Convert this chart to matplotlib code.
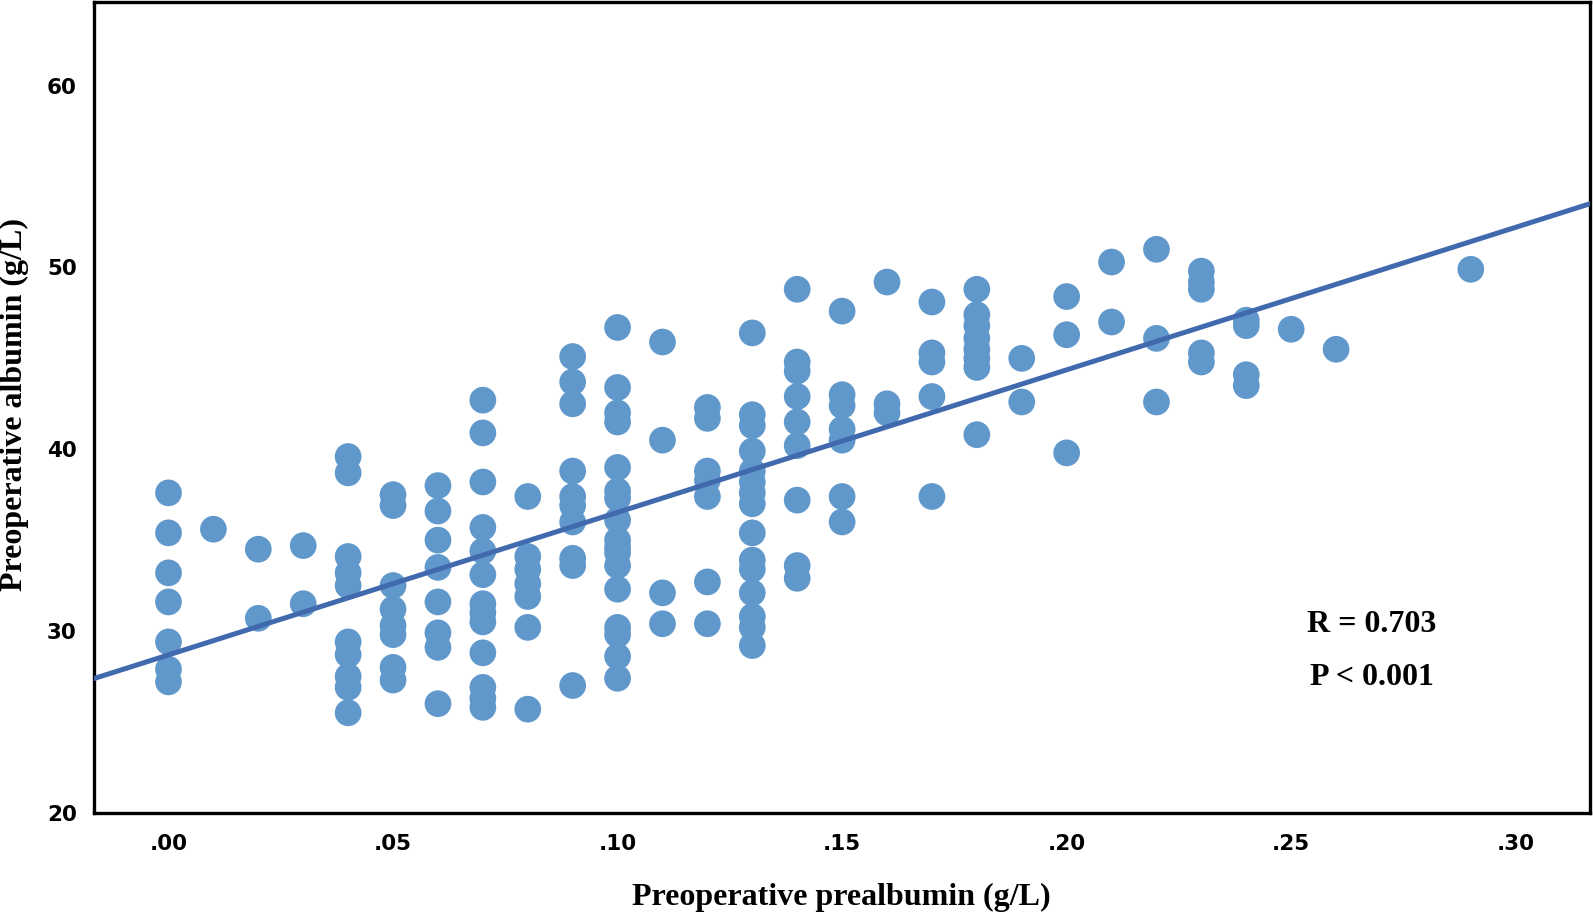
import matplotlib.pyplot as plt
import numpy as np

# prealbumin (g/L) column -> albumin values (g/L)
x_levels = [0.00, 0.01, 0.02, 0.03, 0.04, 0.05, 0.06, 0.07, 0.08, 0.09,
            0.10, 0.11, 0.12, 0.13, 0.14, 0.15, 0.16, 0.17, 0.18, 0.19,
            0.20, 0.21, 0.22, 0.23, 0.24, 0.25, 0.26, 0.29]
albumin_by_level = [
    [37.6, 35.4, 33.2, 31.6, 29.4, 27.9, 27.2],
    [35.6],
    [34.5, 30.7],
    [34.7, 31.5],
    [39.6, 38.7, 34.1, 33.2, 32.5, 29.4, 28.7, 27.5, 26.9, 25.5],
    [37.5, 36.9, 32.5, 31.2, 30.3, 29.8, 28.0, 27.3],
    [38.0, 36.6, 35.0, 33.5, 31.6, 29.9, 29.1, 26.0],
    [42.7, 40.9, 38.2, 35.7, 34.4, 33.1, 31.5, 31.0, 30.5, 28.8, 26.9, 26.3, 25.8],
    [37.4, 34.1, 33.4, 32.6, 31.9, 30.2, 25.7],
    [45.1, 43.7, 42.5, 38.8, 37.4, 36.9, 36.0, 34.0, 33.6, 27.0],
    [46.7, 43.4, 42.0, 41.5, 39.0, 37.7, 37.3, 36.1, 35.0, 34.6, 34.3, 33.6,
     32.3, 30.2, 29.8, 28.6, 27.4],
    [45.9, 40.5, 32.1, 30.4],
    [42.3, 41.7, 38.8, 38.3, 37.4, 32.7, 30.4],
    [46.4, 41.9, 41.3, 39.9, 38.8, 38.2, 37.6, 37.0, 35.4, 33.9, 33.4, 32.1,
     30.8, 30.2, 29.2],
    [48.8, 44.8, 44.3, 42.9, 41.5, 40.2, 37.2, 33.6, 32.9],
    [47.6, 43.0, 42.4, 41.1, 40.5, 37.4, 36.0],
    [49.2, 42.5, 42.0],
    [48.1, 45.3, 44.8, 42.9, 37.4],
    [48.8, 47.4, 46.8, 46.1, 45.5, 45.0, 44.5, 40.8],
    [45.0, 42.6],
    [48.4, 46.3, 39.8],
    [50.3, 47.0],
    [51.0, 46.1, 42.6],
    [49.8, 49.2, 48.8, 45.3, 44.8],
    [47.1, 46.8, 44.1, 43.5],
    [46.6],
    [45.5],
    [49.9],
]

prealb = np.concatenate([[lv] * len(v) for lv, v in zip(x_levels, albumin_by_level)])
albumin = np.concatenate(albumin_by_level)

slope, intercept = np.polyfit(prealb, albumin, 1)

fig = plt.figure(figsize=(15.93, 9.16), dpi=100)
ax = fig.add_axes([0.0587, 0.1127, 0.9393, 0.885])

ax.scatter(prealb, albumin, s=370, color="#6198cc", edgecolors="none", zorder=2)

xlim = (-0.0167, 0.3165)
fit_x = np.array(xlim)
ax.plot(fit_x, slope * fit_x + intercept, color="#4169ad", linewidth=3.6, zorder=3)

ax.set_xlim(*xlim)
ax.set_ylim(20, 64.6)

ax.set_xticks([0, 0.05, 0.10, 0.15, 0.20, 0.25, 0.30])
ax.set_xticklabels([".00", ".05", ".10", ".15", ".20", ".25", ".30"])
ax.set_yticks([20, 30, 40, 50, 60])
ax.tick_params(length=0, labelsize=15.5)
ax.tick_params(axis="x", pad=15)
ax.tick_params(axis="y", pad=12)
for lab in ax.get_xticklabels() + ax.get_yticklabels():
    lab.set_fontfamily("DejaVu Sans")
    lab.set_fontweight("heavy")

for sp in ax.spines.values():
    sp.set_linewidth(2.4)
    sp.set_color("black")

serif = dict(family="Liberation Serif", fontweight="bold")
ax.set_xlabel("Preoperative prealbumin (g/L)", fontsize=23, labelpad=21, **serif)
ax.set_ylabel("Preoperative albumin (g/L)", fontsize=23, va="center", **serif)
ax.yaxis.set_label_coords(-0.053, 0.504)

ax.text(0.268, 30.35, "R = 0.703", ha="center", va="center", fontsize=23, **serif)
ax.text(0.268, 27.45, "P < 0.001", ha="center", va="center", fontsize=23, **serif)

plt.savefig("out.png", dpi=100)
